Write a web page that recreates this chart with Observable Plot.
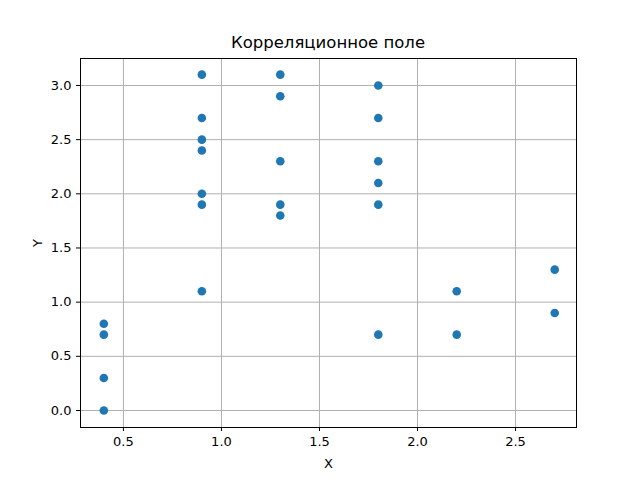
<!DOCTYPE html>
<html><head><meta charset="utf-8">
<script src="https://cdn.jsdelivr.net/npm/d3@7"></script>
<script src="https://cdn.jsdelivr.net/npm/@observablehq/plot@0.6"></script>
<style>body{margin:0;background:#fff;font-family:"DejaVu Sans";}#wrap{position:relative;width:640px;height:480px}
#title{position:absolute;top:33px;left:80px;width:496px;text-align:center;font-size:16.5px;}</style>
</head><body><div id="wrap"><div id="title">Корреляционное поле</div></div>
<script>
const xs = [0.4,0.4,0.4,0.4, 0.9,0.9,0.9,0.9,0.9,0.9,0.9, 1.3,1.3,1.3,1.3,1.3, 1.8,1.8,1.8,1.8,1.8,1.8, 2.2,2.2, 2.7,2.7];
const ys = [0.8,0.7,0.3,0.0, 3.1,2.7,2.5,2.4,2.0,1.9,1.1, 3.1,2.9,2.3,1.9,1.8, 3.0,2.7,2.3,2.1,1.9,0.7, 1.1,0.7, 1.3,0.9];
const xTicks = [0.5,1.0,1.5,2.0,2.5];
const yTicks = [0.0,0.5,1.0,1.5,2.0,2.5,3.0];
const data = xs.map((x,i)=>({x, y: ys[i]}));
const fmt = d3.format(".1f");
const chart = Plot.plot({
  width: 640, height: 480,
  marginLeft: 80, marginRight: 64, marginTop: 58, marginBottom: 53,
  style: {fontFamily: "DejaVu Sans", fontSize: "13px", color: "#000", background: "#fff"},
  x: {domain: [0.281, 2.811], ticks: xTicks, tickFormat: fmt, label: "X", labelAnchor: "center", labelArrow: "none", labelOffset: 40},
  y: {domain: [-0.157, 3.249], ticks: yTicks, tickFormat: fmt, label: "Y", labelAnchor: "center", labelArrow: "none", labelOffset: 48},
  marks: [
    Plot.gridX(xTicks, {stroke: "#b0b0b0", strokeOpacity: 1, strokeWidth: 1}),
    Plot.gridY(yTicks, {stroke: "#b0b0b0", strokeOpacity: 1, strokeWidth: 1}),
    Plot.axisX({ticks: xTicks, tickFormat: fmt, tickSize: 4, label: "X", labelAnchor: "center", labelArrow: "none", labelOffset: 40}),
    Plot.axisY({ticks: yTicks, tickFormat: fmt, tickSize: 4, label: "Y", labelAnchor: "center", labelArrow: "none", labelOffset: 48}),
    Plot.dot(data, {x: "x", y: "y", r: 4.3, fill: "#1f77b4", stroke: null}),
    Plot.frame({stroke: "#000", strokeWidth: 1})
  ]
});
document.getElementById("wrap").prepend(chart);
</script></body></html>
